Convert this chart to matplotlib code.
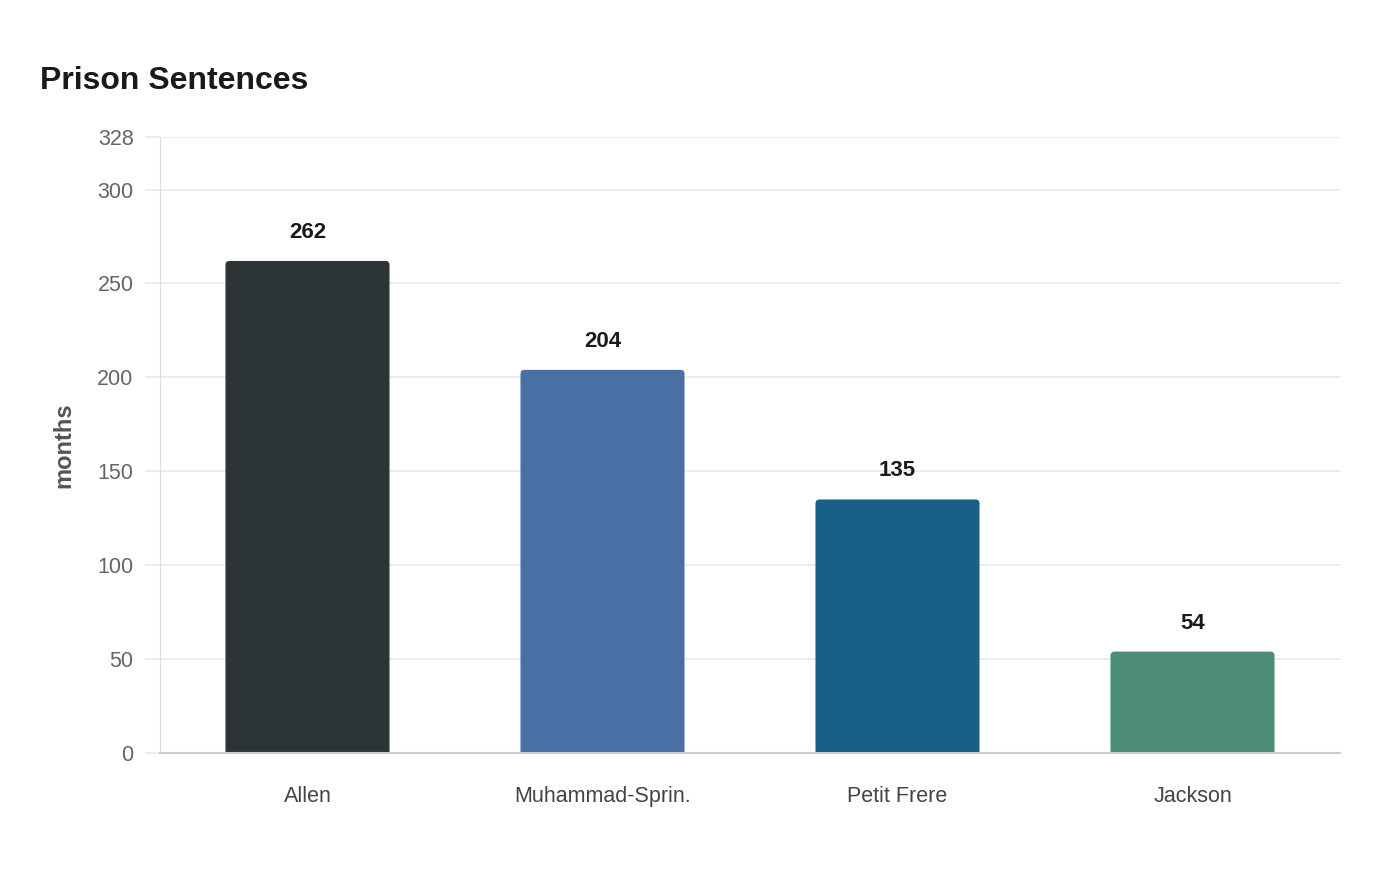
import matplotlib
matplotlib.use("Agg")
import matplotlib.pyplot as plt
from matplotlib.patches import FancyBboxPatch

categories = ["Allen", "Muhammad-Sprin.", "Petit Frere", "Jackson"]
months = [262, 204, 135, 54]
colors = ["#2d3436", "#4a6fa5", "#186085", "#4e8c7a"]
yticks = [0, 50, 100, 150, 200, 250, 300, 328]
ymax = 328

plt.rcParams['font.family'] = ['Liberation Sans', 'DejaVu Sans']

fig = plt.figure(figsize=(14, 8.8), dpi=100)
ax = fig.add_axes([160/1400, 1-753/880, 1180/1400, 616/880])

x = list(range(len(categories)))
bars = ax.bar(x, months, width=0.556, color=colors, zorder=3)

# replace with rounded-top versions
px_x = 1180 / 4.0          # pixels per x unit
px_y = 616 / ymax          # pixels per y unit
r_px = 4.0
rx = r_px / px_x
for b, c in zip(bars, colors):
    bx, bw, bh = b.get_x(), b.get_width(), b.get_height()
    b.set_visible(False)
    ext = 10  # extend below 0 so bottom rounding is clipped
    p = FancyBboxPatch((bx, -ext), bw, bh + ext,
                       boxstyle=f"round,pad=0,rounding_size={rx}",
                       mutation_aspect=(r_px / px_y) / rx,
                       facecolor=c, edgecolor="none", zorder=3,
                       clip_on=True)
    ax.add_patch(p)
    ax.annotate(f"{int(bh)}", (bx + bw / 2, bh), xytext=(0, 13),
                textcoords="offset points", ha="center", va="bottom",
                fontsize=16, fontweight="bold", color="#1a1a1a")

ax.set_xlim(-0.5, 3.5)
ax.set_ylim(0, ymax)
ax.set_yticks(yticks)
ax.set_yticklabels([str(t) for t in yticks])
ax.set_xticks(x)
ax.set_xticklabels(categories)

ax.grid(axis="y", color="#ebebeb", linewidth=1.3, zorder=0)
ax.grid(axis="x", visible=False)
ax.tick_params(axis="y", length=11, width=1.3, color="#ebebeb", pad=8,
               labelsize=15.5, labelcolor="#666666")
ax.tick_params(axis="x", length=0, pad=24, labelsize=15.5, labelcolor="#444444")

for s in ["top", "right"]:
    ax.spines[s].set_visible(False)
ax.spines["left"].set_color("#dddddd")
ax.spines["left"].set_linewidth(0.8)
ax.spines["left"].set_linestyle((0, (1, 1)))
ax.spines["bottom"].set_color("#cccccc")
ax.spines["bottom"].set_linewidth(1.5)
ax.spines["bottom"].set_zorder(4)

ax.set_ylabel("months", fontsize=17, fontweight="bold", color="#555555", labelpad=16)

fig.text(40/1400, 1-81/880, "Prison Sentences", fontsize=23, fontweight="bold",
         color="#1a1a1a", ha="left", va="center")

fig.savefig("out.png", dpi=100, facecolor="white")
